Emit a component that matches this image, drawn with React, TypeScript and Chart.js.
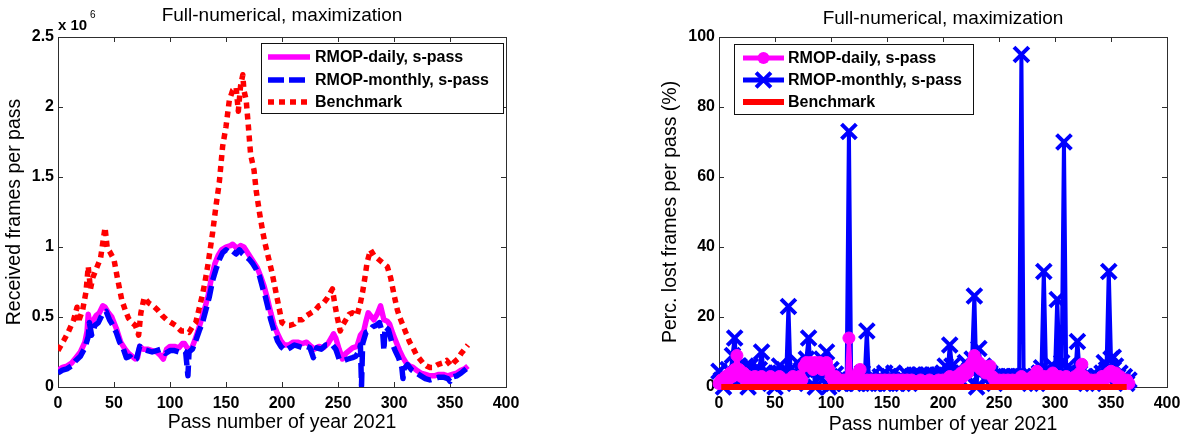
import { useEffect, useRef } from "react";
import { Chart, registerables } from "chart.js";

Chart.register(...registerables);

const FONT = '"Liberation Sans", Arial, Helvetica, sans-serif';
const MAGENTA = "#ff00ff";
const BLUE = "#0000ff";
const RED = "#ff0000";
const FRAME = "#2e2e2e";

// ---- Received frames per pass (units of 10^6 frames) ----
const DAILY_PASS = [
  0, 4, 8, 12, 16, 20, 24, 26, 27, 29, 31, 34, 37, 40, 42, 45, 48, 52, 56, 60,
  63, 66, 69, 71, 73, 76, 80, 84, 88, 91, 94, 97, 100, 104, 108, 111, 113, 116, 119, 122,
  125, 128, 131, 134, 137, 140, 143, 146, 150, 154, 156, 160, 163, 166, 170, 174, 178, 181, 184, 187,
  190, 193, 196, 199, 202, 206, 210, 214, 218, 222, 226, 229, 233, 237, 241, 244, 246, 248, 251, 254,
  257, 260, 263, 267, 270, 273, 275, 277, 280, 282, 285, 288, 291, 294, 296, 299, 302, 305, 308, 311,
  314, 317, 320, 324, 328, 332, 336, 340, 344, 348, 352, 356, 360, 363, 366,
];
const DAILY_FRAMES = [
  0.12, 0.14, 0.15, 0.17, 0.21, 0.25, 0.32, 0.40, 0.52, 0.42, 0.47, 0.51, 0.53, 0.58, 0.57, 0.53, 0.50, 0.42, 0.32, 0.27,
  0.24, 0.22, 0.20, 0.21, 0.29, 0.27, 0.27, 0.26, 0.25, 0.23, 0.20, 0.27, 0.29, 0.29, 0.28, 0.31, 0.31, 0.27, 0.27, 0.33,
  0.40, 0.48, 0.56, 0.65, 0.78, 0.88, 0.94, 0.98, 1.00, 1.01, 1.02, 0.99, 1.01, 1.00, 0.95, 0.90, 0.85, 0.79, 0.72, 0.63,
  0.53, 0.44, 0.38, 0.33, 0.30, 0.30, 0.32, 0.32, 0.31, 0.32, 0.29, 0.27, 0.29, 0.28, 0.31, 0.35, 0.38, 0.35, 0.27, 0.20,
  0.24, 0.26, 0.28, 0.29, 0.37, 0.40, 0.47, 0.53, 0.50, 0.48, 0.52, 0.58, 0.48, 0.47, 0.45, 0.38, 0.32, 0.26, 0.21, 0.17,
  0.15, 0.14, 0.12, 0.10, 0.09, 0.08, 0.08, 0.09, 0.09, 0.08, 0.09, 0.10, 0.12, 0.13, 0.15,
];

const MONTHLY_PASS = [
  0, 4, 8, 12, 16, 20, 24, 27, 28, 30, 33, 36, 39, 41, 43, 46, 49, 52, 55, 58,
  61, 64, 67, 70, 73, 76, 80, 84, 88, 92, 96, 100, 104, 108, 112, 114, 116, 117, 120, 123,
  126, 129, 132, 135, 138, 141, 144, 147, 150, 153, 156, 159, 162, 165, 168, 171, 174, 177, 180, 183,
  185, 188, 190, 193, 196, 199, 203, 207, 211, 215, 219, 222, 225, 228, 231, 235, 239, 242, 245, 248,
  251, 255, 259, 263, 266, 269, 270, 271, 272, 275, 278, 281, 284, 287, 290, 291, 292, 295, 298, 301,
  304, 307, 308, 309, 312, 316, 320, 324, 328, 332, 336, 340, 344, 348, 350, 352, 356, 360, 363, 366,
];
const MONTHLY_FRAMES = [
  0.10, 0.12, 0.13, 0.15, 0.19, 0.22, 0.28, 0.36, 0.46, 0.37, 0.44, 0.46, 0.51, 0.53, 0.54, 0.48, 0.44, 0.39, 0.32, 0.28,
  0.21, 0.22, 0.19, 0.20, 0.29, 0.27, 0.26, 0.25, 0.26, 0.27, 0.24, 0.26, 0.26, 0.25, 0.26, 0.25, 0.08, 0.25, 0.27, 0.33,
  0.40, 0.46, 0.55, 0.64, 0.76, 0.84, 0.91, 0.96, 0.98, 0.96, 0.97, 0.95, 0.98, 0.95, 0.93, 0.91, 0.88, 0.84, 0.79, 0.70,
  0.65, 0.55, 0.48, 0.40, 0.33, 0.29, 0.26, 0.28, 0.30, 0.29, 0.28, 0.29, 0.28, 0.21, 0.28, 0.27, 0.30, 0.30, 0.30, 0.27,
  0.20, 0.19, 0.20, 0.21, 0.22, 0.26, 0.30, 0.01, 0.31, 0.39, 0.40, 0.43, 0.44, 0.46, 0.38, 0.26, 0.43, 0.41, 0.32, 0.26,
  0.21, 0.14, 0.06, 0.13, 0.16, 0.12, 0.10, 0.08, 0.06, 0.05, 0.06, 0.07, 0.07, 0.06, 0.04, 0.07, 0.08, 0.10, 0.12, 0.14,
];

const BENCH_PASS = [
  0, 5, 9, 14, 17, 18, 22, 25, 27, 29, 31, 35, 38, 42, 44, 46, 50, 53, 57, 60,
  63, 66, 69, 71, 72, 74, 77, 81, 85, 89, 93, 97, 101, 105, 110, 114, 117, 120, 123, 126,
  129, 131, 134, 138, 141, 144, 147, 150, 153, 156, 159, 161, 163, 165, 166, 168, 170, 172, 175, 177,
  180, 183, 185, 188, 191, 193, 195, 198, 200, 204, 207, 211, 214, 218, 222, 226, 230, 233, 236, 240,
  243, 245, 247, 249, 252, 254, 257, 260, 263, 267, 270, 272, 274, 276, 279, 282, 285, 288, 291, 294,
  297, 300, 303, 305, 308, 311, 314, 317, 320, 323, 326, 329, 332, 335, 339, 343, 347, 351, 354, 357,
  360, 363, 366,
];
const BENCH_FRAMES = [
  0.26, 0.33, 0.39, 0.48, 0.57, 0.46, 0.55, 0.68, 0.86, 0.70, 0.78, 0.86, 0.92, 1.14, 0.99, 0.97, 0.91, 0.78, 0.62, 0.55,
  0.49, 0.46, 0.44, 0.40, 0.37, 0.53, 0.64, 0.60, 0.58, 0.55, 0.51, 0.48, 0.46, 0.44, 0.40, 0.40, 0.39, 0.43, 0.46, 0.56,
  0.66, 0.74, 0.88, 1.10, 1.29, 1.46, 1.72, 1.86, 2.05, 2.12, 2.14, 1.97, 2.15, 2.23, 2.12, 2.05, 1.86, 1.66, 1.55, 1.40,
  1.24, 1.10, 1.02, 0.92, 0.82, 0.74, 0.66, 0.54, 0.46, 0.44, 0.44, 0.45, 0.48, 0.48, 0.51, 0.53, 0.55, 0.58, 0.59, 0.63,
  0.67, 0.70, 0.60, 0.51, 0.40, 0.44, 0.48, 0.52, 0.53, 0.51, 0.60, 0.68, 0.78, 0.89, 0.98, 0.94, 0.92, 0.90, 0.88, 0.86,
  0.78, 0.66, 0.55, 0.50, 0.44, 0.38, 0.32, 0.28, 0.23, 0.20, 0.17, 0.15, 0.14, 0.14, 0.16, 0.17, 0.19, 0.15, 0.18, 0.20,
  0.24, 0.27, 0.30,
];

// ---- Percentage of lost frames per pass, sampled every second pass ----
const LOSS_PASS_STEP = 2;
const DAILY_LOSS = [
  1, 2, 1, 3, 2, 4, 3, 5, 9, 5, 3,
  4, 2, 3, 2.7, 1, 3, 2, 1, 3, 2,
  1, 2, 3, 1, 2, 1, 3, 2, 1, 2,
  1, 2, 3, 1, 2, 3, 2, 6, 7, 6.5,
  7, 5, 7, 6, 7, 5, 6, 7, 5, 3,
  2, 3, 1, 2, 1, 2, 1, 14, 1, 2,
  3, 4, 5, 2, 1, 2, 1, 2, 1, 2,
  1, 2, 1, 2, 1, 2, 1, 2, 1, 2,
  1, 2, 1, 2, 1, 2, 1, 1.5, 1, 2,
  1, 1.5, 1, 2, 1, 1.5, 1, 2, 1, 2,
  1, 2, 3, 1, 2, 3, 2, 4, 3, 5,
  4, 6, 7, 9, 6, 7, 5, 6, 4, 5,
  6, 3, 2, 1, 2, 1, 2, 1, 2, 1,
  2, 1, 2, 1, 3, 1, 2, 1, 2, 3,
  2, 4.5, 2, 1, 3, 2, 3, 2, 4, 3,
  2, 3, 1, 2, 3, 2, 1, 2, 3, 2,
  4, 6.5, 3, 2, 1, 2, 1, 2, 1, 2,
  3, 2, 3, 4, 4.5, 3, 4, 2, 3, 2,
  1, 2, 1,
];
const MONTHLY_LOSS = [
  4.5, 2, 0, 3, 5, 2, 9, 14, 4, 6, 2,
  3, 6, 0, 6, 3, 5, 2, 5, 10, 4,
  2, 4, 1, 3, 0, 4, 6, 2, 5, 3,
  23, 2, 4, 1, 7, 3, 5, 2, 8, 14,
  4, 6, 0, 5, 3, 8, 4, 10, 0, 5,
  1, 3.7, 2, 1, 3, 1, 2, 73, 2, 1,
  3, 1, 2, 4, 2, 16, 1, 3, 1, 2,
  1, 3, 2, 4, 1, 3, 2, 4, 1, 2,
  3, 1, 2, 3.5, 1, 3, 3.4, 3.4, 3, 3.4,
  3, 3.4, 3.4, 3, 3.4, 3.4, 3, 3.4, 3, 4,
  6, 3, 12, 6, 2, 3, 5, 2, 4, 7,
  3, 5, 8, 26, 0, 11, 4, 6, 2, 3,
  4, 2, 1, 3, 2, 3, 3, 3, 3, 3,
  2, 3, 2, 3, 95, 3, 2, 3, 1, 2,
  3, 1, 4, 5.5, 33, 4, 2, 3, 6, 4,
  25, 5, 7, 70, 3.7, 6, 2, 4, 3, 13,
  4, 2, 3, 1, 2, 3, 1, 2, 3, 2,
  4, 7, 5, 33, 8, 8.5, 6, 3, 4, 2,
  3, 1, 2,
];
const BENCH_LOSS_PASS = [2, 364];
const BENCH_LOSS = [0, 0];

const PASS_TICK_STEP = 50;
const FRAMES_TICK_STEP = 0.5;
const LOSS_TICK_STEP = 20;

const TITLE = "Full-numerical, maximization";
const X_TITLE = "Pass number of year 2021";
const Y_TITLE_FRAMES = "Received frames per pass";
const Y_TITLE_LOSS = "Perc. lost frames per pass (%)";
const LABEL_DAILY = "RMOP-daily, s-pass";
const LABEL_MONTHLY = "RMOP-monthly, s-pass";
const LABEL_BENCH = "Benchmark";

const toPoints = (xs: number[], ys: number[]) => xs.map((x, i) => ({ x, y: ys[i] }));
const lossPasses = DAILY_LOSS.map((_, i) => i * LOSS_PASS_STEP);

type LegendEntry = {
  label: string;
  color: string;
  width: number;
  dash?: number[];
  marker?: "circle" | "crossRot";
  markerRadius?: number;
};

type FrameConfig = {
  titleY: number;
  xTitleY: number;
  yTitle: string;
  yTitleX: number;
  exponent?: boolean;
  legend: {
    x: number;
    y: number;
    w: number;
    h: number;
    rows: number[];
    sample: [number, number];
    textX: number;
    entries: LegendEntry[];
  };
};

function drawMarker(ctx: CanvasRenderingContext2D, kind: string, x: number, y: number, r: number, color: string) {
  ctx.save();
  ctx.setLineDash([]);
  if (kind === "circle") {
    ctx.fillStyle = color;
    ctx.beginPath();
    ctx.arc(x, y, r, 0, Math.PI * 2);
    ctx.fill();
  } else {
    const d = r * Math.SQRT1_2;
    ctx.strokeStyle = color;
    ctx.lineWidth = 4;
    ctx.lineCap = "butt";
    ctx.beginPath();
    ctx.moveTo(x - d, y - d);
    ctx.lineTo(x + d, y + d);
    ctx.moveTo(x + d, y - d);
    ctx.lineTo(x - d, y + d);
    ctx.stroke();
  }
  ctx.restore();
}

// Axes box with inward ticks, titles and an in-axes legend
function framePlugin(cfg: FrameConfig) {
  return {
    id: "matlabFrame",
    beforeDatasetsDraw(chart: any) {
      const { ctx, chartArea: a } = chart;
      const xs = chart.scales.x;
      const ys = chart.scales.y;
      ctx.save();
      ctx.strokeStyle = FRAME;
      ctx.lineWidth = 1;
      ctx.strokeRect(Math.round(a.left) + 0.5, Math.round(a.top) + 0.5, Math.round(a.right - a.left), Math.round(a.bottom - a.top));
      ctx.beginPath();
      xs.ticks.forEach((t: any) => {
        const px = Math.round(xs.getPixelForValue(t.value)) + 0.5;
        ctx.moveTo(px, a.bottom);
        ctx.lineTo(px, a.bottom - 5);
        ctx.moveTo(px, a.top);
        ctx.lineTo(px, a.top + 5);
      });
      ys.ticks.forEach((t: any) => {
        const py = Math.round(ys.getPixelForValue(t.value)) + 0.5;
        ctx.moveTo(a.left, py);
        ctx.lineTo(a.left + 5, py);
        ctx.moveTo(a.right, py);
        ctx.lineTo(a.right - 5, py);
      });
      ctx.stroke();
      ctx.restore();
    },
    afterDatasetsDraw(chart: any) {
      const { ctx, chartArea: a } = chart;
      const cx = (a.left + a.right) / 2;
      ctx.save();
      ctx.fillStyle = "#000";
      ctx.textAlign = "center";
      ctx.textBaseline = "middle";
      ctx.font = `19px ${FONT}`;
      ctx.fillText(TITLE, cx, cfg.titleY);
      ctx.font = `19.5px ${FONT}`;
      ctx.fillText(X_TITLE, cx, cfg.xTitleY);
      ctx.save();
      ctx.translate(cfg.yTitleX, (a.top + a.bottom) / 2);
      ctx.rotate(-Math.PI / 2);
      ctx.fillText(cfg.yTitle, 0, 0);
      ctx.restore();

      if (cfg.exponent) {
        ctx.textAlign = "left";
        ctx.textBaseline = "alphabetic";
        ctx.font = `bold 15px ${FONT}`;
        ctx.fillText("x 10", a.left, 30);
        ctx.font = `10px ${FONT}`;
        ctx.fillText("6", a.left + 32, 18);
      }

      const L = cfg.legend;
      ctx.fillStyle = "#fff";
      ctx.fillRect(L.x, L.y, L.w, L.h);
      ctx.strokeStyle = "#111";
      ctx.lineWidth = 1;
      ctx.strokeRect(L.x + 0.5, L.y + 0.5, L.w, L.h);
      L.entries.forEach((e, i) => {
        const y = L.rows[i];
        ctx.save();
        ctx.strokeStyle = e.color;
        ctx.lineWidth = e.width;
        ctx.lineCap = "butt";
        ctx.setLineDash(e.dash || []);
        ctx.beginPath();
        ctx.moveTo(L.sample[0], y);
        ctx.lineTo(L.sample[1], y);
        ctx.stroke();
        ctx.restore();
        if (e.marker) drawMarker(ctx, e.marker, (L.sample[0] + L.sample[1]) / 2, y, e.markerRadius || 5, e.color);
        ctx.fillStyle = "#000";
        ctx.textAlign = "left";
        ctx.textBaseline = "middle";
        ctx.font = `bold 16px ${FONT}`;
        ctx.fillText(e.label, L.textX, y + 1);
      });
      ctx.restore();
    },
  };
}

const tickFont = { family: FONT, size: 16, weight: "bold" as const };

function baseScales(yMax: number, yStep: number, yWidth: number) {
  return {
    x: {
      type: "linear" as const,
      min: 0,
      max: 400,
      ticks: { stepSize: PASS_TICK_STEP, padding: 7, font: tickFont, color: "#000", maxRotation: 0, autoSkip: false },
      grid: { display: false, drawTicks: false },
      border: { display: false },
      afterFit: (s: any) => {
        s.height = 53;
      },
    },
    y: {
      type: "linear" as const,
      min: 0,
      max: yMax,
      ticks: {
        stepSize: yStep,
        padding: 4,
        font: tickFont,
        color: "#000",
        callback: (v: number | string) => String(Number(v)),
      },
      grid: { display: false, drawTicks: false },
      border: { display: false },
      afterFit: (s: any) => {
        s.width = yWidth;
      },
    },
  };
}

const commonOptions = {
  responsive: false,
  animation: false as const,
  devicePixelRatio: 1,
  events: [] as any[],
  plugins: { legend: { display: false }, tooltip: { enabled: false }, title: { display: false } },
  elements: { line: { tension: 0, borderJoinStyle: "round" as const, borderCapStyle: "butt" as const, fill: false } },
};

export default function App() {
  const leftRef = useRef<HTMLCanvasElement>(null);
  const rightRef = useRef<HTMLCanvasElement>(null);

  useEffect(() => {
    const framesChart = new Chart(leftRef.current!, {
      type: "line",
      data: {
        datasets: [
          {
            label: LABEL_DAILY,
            data: toPoints(DAILY_PASS, DAILY_FRAMES),
            borderColor: MAGENTA,
            borderWidth: 5.5,
            pointRadius: 0,
            order: 2,
          },
          {
            label: LABEL_MONTHLY,
            data: toPoints(MONTHLY_PASS, MONTHLY_FRAMES),
            borderColor: BLUE,
            borderWidth: 5.5,
            borderDash: [15, 6],
            pointRadius: 0,
            order: 1,
          },
          {
            label: LABEL_BENCH,
            data: toPoints(BENCH_PASS, BENCH_FRAMES),
            borderColor: RED,
            borderWidth: 5.5,
            borderDash: [6, 5],
            pointRadius: 0,
            order: 0,
          },
        ],
      },
      options: {
        ...commonOptions,
        layout: { padding: { left: 0, top: 37, right: 89, bottom: 0 } },
        scales: baseScales(2.5, FRAMES_TICK_STEP, 58),
      } as any,
      plugins: [
        framePlugin({
          titleY: 16,
          xTitleY: 423,
          yTitle: Y_TITLE_FRAMES,
          yTitleX: 15,
          exponent: true,
          legend: {
            x: 261,
            y: 43,
            w: 242,
            h: 70,
            rows: [57, 80, 102],
            sample: [268, 310],
            textX: 315,
            entries: [
              { label: LABEL_DAILY, color: MAGENTA, width: 5.5 },
              { label: LABEL_MONTHLY, color: BLUE, width: 5.5, dash: [16, 5] },
              { label: LABEL_BENCH, color: RED, width: 5.5, dash: [6, 5] },
            ],
          },
        }),
      ],
    });

    const lossChart = new Chart(rightRef.current!, {
      type: "line",
      data: {
        datasets: [
          {
            label: LABEL_DAILY,
            data: toPoints(lossPasses, DAILY_LOSS),
            borderColor: MAGENTA,
            borderWidth: 4,
            pointStyle: "circle",
            pointRadius: 6,
            pointBackgroundColor: MAGENTA,
            pointBorderColor: MAGENTA,
            pointBorderWidth: 1,
            clip: false,
            order: 1,
          },
          {
            label: LABEL_MONTHLY,
            data: toPoints(lossPasses, MONTHLY_LOSS),
            borderColor: BLUE,
            borderWidth: 4,
            pointStyle: "crossRot",
            pointRadius: 10.5,
            pointBorderColor: BLUE,
            pointBorderWidth: 4,
            clip: false,
            order: 2,
          },
          {
            label: LABEL_BENCH,
            data: toPoints(BENCH_LOSS_PASS, BENCH_LOSS),
            borderColor: RED,
            borderWidth: 6,
            pointRadius: 0,
            clip: false,
            order: 0,
          },
        ],
      },
      options: {
        ...commonOptions,
        layout: { padding: { left: 0, top: 37, right: 23, bottom: 0 } },
        scales: baseScales(100, LOSS_TICK_STEP, 124),
      } as any,
      plugins: [
        framePlugin({
          titleY: 19,
          xTitleY: 425,
          yTitle: Y_TITLE_LOSS,
          yTitleX: 76,
          legend: {
            x: 139,
            y: 44,
            w: 239,
            h: 70,
            rows: [58, 80, 102],
            sample: [148, 189],
            textX: 193,
            entries: [
              { label: LABEL_DAILY, color: MAGENTA, width: 5, marker: "circle", markerRadius: 6 },
              { label: LABEL_MONTHLY, color: BLUE, width: 5, marker: "crossRot", markerRadius: 10.5 },
              { label: LABEL_BENCH, color: RED, width: 6 },
            ],
          },
        }),
      ],
    });

    return () => {
      framesChart.destroy();
      lossChart.destroy();
    };
  }, []);

  return (
    <div style={{ position: "absolute", left: 0, top: 0, width: 1190, height: 440, background: "#fff" }}>
      <canvas ref={leftRef} width={595} height={440} style={{ position: "absolute", left: 0, top: 0 }} />
      <canvas ref={rightRef} width={595} height={440} style={{ position: "absolute", left: 595, top: 0 }} />
    </div>
  );
}
